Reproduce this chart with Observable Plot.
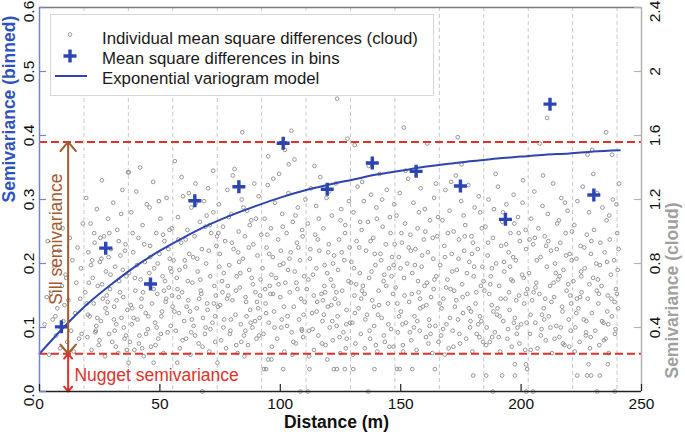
<!DOCTYPE html>
<html><head><meta charset="utf-8">
<script src="https://cdn.jsdelivr.net/npm/d3@7"></script>
<script src="https://cdn.jsdelivr.net/npm/@observablehq/plot@0.6"></script>
<style>
body{margin:0;background:#fff;}
#wrap{position:relative;width:685px;height:435px;font-family:"Liberation Sans",Arial,sans-serif;}
#wrap svg{display:block;}
</style></head><body><div id="wrap"></div>
<script>
// ---------- data ----------
const xTicks = [0, 50, 100, 150, 200, 250];
const xTickLabels = ["0", "50", "100", "150", "200", "250"];
const yTicks = [0, 0.1, 0.2, 0.3, 0.4, 0.5, 0.6];
const yTickLabels = ["0.0", "0.1", "0.2", "0.3", "0.4", "0.5", "0.6"];
const cloudTicks = [0.4, 0.8, 1.2, 1.6, 2, 2.4];
const cloudTickLabels = ["0.4", "0.8", "1.2", "1.6", "2", "2.4"];
const cloudPerBinned = 4; // right axis (cloud) = 4 x left axis (binned)

const binEdges = [18.45, 36.9, 55.35, 73.8, 92.25, 110.7, 129.15, 147.6, 166.05, 184.5, 202.95, 221.4, 239.85];
const binDist = [9.1, 27.5, 46.1, 64.5, 82.8, 101.2, 119.5, 138.2, 156.4, 174.8, 193.5, 212.0, 230.2];
const binMean = [0.101, 0.224, 0.168, 0.298, 0.320, 0.388, 0.316, 0.357, 0.344, 0.321, 0.269, 0.449, 0.307];

const modelDist = [0, 10, 20, 30, 40, 50, 60, 70, 80, 90, 100, 110, 120, 130, 140, 150, 160, 170, 180, 190, 200, 210, 220, 230, 241];
const modelGamma = [0.059, 0.100, 0.137, 0.168, 0.196, 0.220, 0.241, 0.260, 0.276, 0.290, 0.303, 0.314, 0.323, 0.331, 0.339, 0.345, 0.351, 0.356, 0.360, 0.364, 0.367, 0.370, 0.372, 0.375, 0.377];

const sill = 0.39;
const nugget = 0.059;
const arrowDist = 11.9;

// cloud: distance, value (cloud units) pairs
const cloudBin01 = [2.1,.42, 3.4,.94, 4.0,.23, 4.8,.61, 5.5,.45, 6.2,.78, 6.9,.35, 7.4,.52, 8.1,.88, 8.6,.27, 9.3,.66, 9.9,.44, 10.4,.54, 10.8,.73, 11.5,.31, 12.0,.57, 12.6,.96, 13.1,.38, 13.7,.82, 14.2,.25, 14.8,.49, 15.3,.68, 15.8,.90, 16.4,.33, 16.9,.58, 17.5,.36, 18.0,1.05, 17.2,.77, 11.1,.71, 6.6,.47, 3.0,.59, 9.6,1.02];
const cloudBin02 = [19.0,.62, 19.4,1.21, 19.9,.34, 20.3,.87, 20.8,.47, 21.2,1.05, 21.6,.26, 22.1,.71, 22.5,.55, 22.9,.93, 23.4,.38, 23.8,1.14, 24.2,.66, 24.6,.29, 25.1,.81, 25.5,.44, 25.9,1.32, 26.3,.58, 26.8,.97, 27.2,.22, 27.6,.75, 28.0,.49, 28.5,1.08, 28.9,.36, 29.3,.64, 29.7,.89, 30.2,.31, 30.6,1.18, 31.0,.53, 31.4,.78, 31.9,.42, 32.3,1.01, 32.7,.24, 33.1,.69, 33.6,.85, 34.0,.46, 34.4,1.26, 34.8,.59, 35.3,.33, 35.7,.92, 36.1,.72, 36.5,.51, 36.8,1.37, 20.1,.48, 22.7,.99, 24.9,.32, 27.9,.60, 29.0,.99, 31.7,.28, 33.9,1.11, 35.0,.40, 21.9,.82, 26.0,.67, 30.9,.45, 34.6,.76, 23.1,.37, 28.3,.56, 32.9,.94, 25.7,.83, 36.3,.26];
const cloudBin03 = [37.2,.74, 37.6,.31, 38.1,1.12, 38.5,.52, 38.9,.87, 39.4,.26, 39.8,.63, 40.2,1.25, 40.7,.45, 41.1,.96, 41.5,.35, 42.0,.70, 42.4,.58, 42.8,1.04, 43.3,.22, 43.7,.81, 44.1,.49, 44.6,1.17, 45.0,.39, 45.4,.67, 45.9,.91, 46.3,.28, 46.7,.55, 47.2,1.31, 47.6,.77, 48.0,.43, 48.5,.99, 48.9,.61, 49.3,.33, 49.8,.86, 50.2,1.08, 50.6,.47, 51.1,.72, 51.5,.24, 51.9,.94, 52.4,.56, 52.8,1.21, 53.2,.37, 53.7,.65, 54.1,.83, 54.5,.41, 55.0,1.02, 55.3,.53, 38.3,.42, 40.5,.79, 43.0,.62, 45.7,1.15, 48.2,.29, 50.9,.50, 53.5,.89, 41.8,1.40, 52.1,.69, 44.3,.36, 49.6,1.19, 54.8,.75, 39.1,.46, 46.0,.84, 51.3,.98, 42.6,.27, 55.1,.60, 37.1,1.37];
const cloudBin04 = [55.7,.82, 56.2,1.44, 56.6,.38, 57.0,.71, 57.5,1.09, 57.9,.49, 58.3,.27, 58.8,.93, 59.2,.62, 59.6,1.22, 60.1,.44, 60.5,.78, 60.9,.33, 61.4,1.01, 61.8,.57, 62.2,.86, 62.7,.23, 63.1,1.15, 63.5,.68, 64.0,.41, 64.4,.97, 64.8,1.30, 65.3,.52, 65.7,.75, 66.1,.30, 66.6,1.06, 67.0,.63, 67.4,.89, 67.9,.46, 68.3,1.19, 68.7,.36, 69.2,.80, 69.6,.55, 70.0,1.27, 70.5,.25, 70.9,.72, 71.3,.99, 71.8,.43, 72.2,1.12, 72.1,1.38, 72.6,.66, 73.0,.31, 73.5,.91, 59.0,1.34, 63.8,.84, 66.3,.58, 68.9,1.03, 71.0,.39, 73.2,.60, 58.1,.76, 62.5,.50, 65.0,1.18, 67.7,.28, 70.3,.88, 57.3,.64, 60.7,.95, 64.6,.35, 69.4,1.10, 72.9,.47, 62.0,1.24, 61.1,.53];
const cloudBin05 = [74.1,.53, 74.5,1.17, 74.9,.86, 75.4,.32, 75.8,.69, 76.2,1.03, 76.7,.45, 77.1,.94, 77.5,.27, 78.0,1.26, 78.4,.60, 78.8,.79, 79.3,.38, 79.7,1.11, 80.1,.57, 80.6,.89, 81.0,1.39, 81.4,.48, 81.9,.72, 82.3,.24, 82.7,1.00, 83.2,.65, 83.6,.42, 84.0,1.20, 84.2,1.62, 84.5,.83, 84.9,.35, 85.3,.97, 85.8,.56, 86.2,1.13, 86.6,.29, 87.1,.76, 87.5,.51, 87.9,1.07, 88.4,.40, 88.8,.92, 89.2,1.30, 89.7,.62, 90.1,.33, 90.5,.85, 91.0,1.22, 91.4,.46, 91.8,.70, 92.1,.98, 75.0,.54, 77.9,.58, 80.3,1.35, 82.9,.81, 85.1,.22, 87.3,1.04, 89.5,.44, 91.6,.60, 76.5,.74, 79.0,.36, 81.6,.63, 84.7,1.15, 86.9,.90, 88.6,.67, 90.8,.52, 74.3,.99, 83.8,.31, 78.6,1.09, 86.0,.47];
const cloudBin06 = [92.6,.77, 93.0,.36, 93.5,1.08, 93.9,.55, 94.3,.90, 94.8,1.29, 95.0,1.47, 95.2,.43, 95.6,.66, 96.1,1.02, 96.5,.28, 96.9,.84, 97.4,.50, 97.8,1.18, 98.2,.71, 98.7,.33, 99.1,.95, 99.5,1.36, 100.0,.59, 100.4,.40, 100.8,1.11, 101.3,.80, 101.7,.25, 101.9,1.51, 102.1,.68, 102.6,.99, 103.0,.47, 103.5,1.42, 103.4,1.24, 103.9,.62, 104.3,.87, 104.6,1.63, 104.7,.37, 105.2,1.06, 105.6,.53, 105.9,1.45, 106.0,.75, 106.5,.30, 106.9,.93, 107.3,1.15, 107.8,.45, 108.2,.82, 108.6,.58, 109.1,1.01, 109.5,.34, 109.9,.72, 110.4,1.20, 95.9,.61, 100.2,.88, 102.8,.41, 105.0,.23, 107.1,.64, 109.3,.97, 94.1,.49, 97.1,1.33, 99.8,.79, 106.3,1.10, 108.9,.39, 110.1,.56, 96.3,.73, 101.0,1.03];
const cloudBin07 = [111.0,.64, 111.4,1.05, 111.9,.38, 112.3,.83, 112.7,1.27, 113.2,.49, 113.6,.73, 114.0,.26, 114.5,.98, 114.9,1.16, 115.3,.56, 115.8,.35, 116.2,.88, 116.6,1.34, 117.1,.61, 117.5,.44, 117.9,1.02, 118.4,.79, 118.8,.29, 119.2,1.21, 119.7,.53, 120.1,.92, 120.5,.40, 121.0,.70, 121.4,1.10, 121.8,.32, 122.3,.85, 122.7,.58, 123.1,1.30, 123.6,1.83, 123.8,.47, 124.0,.76, 124.4,.95, 124.9,.24, 125.3,1.14, 125.7,.63, 126.2,.37, 126.6,.82, 127.0,1.04, 127.5,.51, 127.9,1.58, 128.3,.69, 128.8,.90, 129.0,.43, 112.0,.22, 113.9,.60, 116.0,1.08, 118.1,.48, 120.3,1.25, 122.0,.66, 124.6,.34, 126.9,.99, 128.5,1.19, 115.0,.77, 117.3,.30, 119.9,.87, 121.2,.54, 125.0,1.07, 127.2,.27, 114.2,1.41, 118.6,.62, 123.4,.41];
const cloudBin08 = [129.5,.81, 129.9,.43, 130.4,1.12, 130.9,1.54, 130.8,.60, 131.2,.30, 131.7,.94, 132.1,1.28, 132.5,.52, 133.0,.74, 133.4,.36, 133.8,1.01, 134.3,.66, 134.7,1.19, 135.1,.27, 135.6,.88, 136.0,.48, 136.4,1.06, 136.9,.71, 137.3,.33, 137.7,1.23, 138.2,.57, 138.6,.96, 139.0,.41, 139.5,.79, 139.9,1.15, 140.3,.25, 140.8,.63, 141.2,1.36, 141.6,.86, 142.1,.46, 142.5,1.03, 142.9,.69, 143.4,.31, 143.8,.92, 144.2,1.26, 144.7,.55, 145.1,.77, 145.5,1.09, 146.0,.39, 146.4,.84, 146.8,.61, 147.3,1.17, 130.1,.23, 132.8,.90, 135.3,.45, 137.9,.75, 140.1,1.08, 143.0,.35, 145.8,.99, 147.0,.28, 134.0,1.31, 138.9,.53, 141.9,.82, 144.9,.42, 131.5,.67, 136.7,1.41, 139.7,.29, 146.2,.72, 133.6,.58, 142.3,1.20];
const cloudBin09 = [147.9,.65, 148.3,1.10, 148.8,.37, 149.2,.84, 149.6,1.24, 150.1,.50, 150.5,.93, 150.9,.29, 151.3,1.65, 151.4,.71, 151.8,1.05, 152.2,.43, 152.7,.80, 153.1,1.33, 153.5,.56, 154.0,.98, 154.4,.32, 154.8,.74, 155.3,1.18, 155.7,.47, 156.1,.89, 156.6,.26, 157.0,1.02, 157.4,.62, 157.9,.38, 158.3,1.27, 158.7,.78, 159.2,.53, 159.6,.95, 160.0,1.14, 160.5,.34, 160.9,.68, 161.0,1.55, 161.3,.87, 161.8,.45, 162.2,1.07, 162.6,.59, 163.1,.24, 163.5,.83, 163.9,1.21, 164.4,.41, 164.8,.72, 165.2,.97, 165.7,.31, 148.6,.55, 151.0,.25, 153.3,.90, 155.5,.40, 157.6,1.12, 159.9,.66, 162.4,.36, 164.6,1.30, 149.9,.77, 152.0,1.38, 154.6,.61, 156.9,.44, 158.9,.85, 161.5,.30, 163.7,.64, 165.5,1.09, 150.3,.99, 158.1,.52];
const cloudBin10 = [166.4,.79, 166.8,.35, 167.3,1.07, 167.7,.58, 168.1,.91, 168.6,1.26, 169.0,.42, 169.4,.70, 169.9,.27, 170.3,1.13, 170.7,.64, 171.2,.86, 171.6,.38, 172.0,1.00, 172.5,.53, 172.9,1.35, 173.3,.76, 173.7,1.59, 173.8,.45, 174.2,.95, 174.6,.30, 175.1,1.19, 175.5,.67, 175.9,.49, 176.4,.88, 176.8,1.04, 177.2,.33, 177.7,.61, 178.1,1.29, 178.5,.81, 179.0,.44, 179.4,.97, 179.8,.25, 180.3,.72, 180.7,1.15, 181.1,.55, 181.6,.36, 182.0,.89, 182.4,1.22, 182.9,.47, 183.3,.66, 183.7,1.02, 184.2,.31, 167.0,.52, 169.6,.99, 171.9,.28, 174.0,.83, 176.1,1.10, 178.8,.40, 181.4,.62, 183.9,.78, 168.3,.23, 170.9,1.31, 173.1,.57, 177.5,.74, 180.0,.93, 182.7,.34, 168.9,.65, 175.3,1.42, 179.2,.50, 183.0,1.12];
const cloudBin11 = [184.8,.63, 185.2,1.03, 185.7,.40, 186.1,.85, 186.5,1.20, 187.0,.31, 187.4,.72, 187.8,.54, 188.3,.96, 188.7,1.14, 189.1,.37, 189.6,.80, 190.0,.48, 190.4,1.28, 190.9,.66, 191.3,.25, 191.7,.91, 192.2,1.06, 192.6,.44, 193.0,.75, 193.5,.58, 193.9,1.17, 194.3,.33, 194.8,.87, 195.2,.51, 195.6,.99, 196.1,.28, 196.5,.69, 196.9,1.23, 197.4,.46, 197.8,.82, 198.2,.36, 198.7,1.09, 199.1,.60, 199.5,.94, 200.0,.42, 200.4,.73, 200.8,1.32, 201.3,.55, 201.7,.26, 202.1,.89, 202.6,.64, 185.5,.29, 187.9,.77, 190.2,.52, 192.5,1.12, 194.6,.39, 196.7,.84, 199.3,.30, 201.9,1.01, 186.8,.61, 189.4,1.36, 191.1,.47, 193.8,.92, 195.9,.70, 198.0,.57, 200.6,1.18, 188.0,.34, 197.2,1.05, 202.3,.43];
const cloudBin12 = [203.3,.74, 203.7,.36, 204.2,1.08, 204.6,.57, 205.0,.92, 205.5,1.25, 205.9,.43, 206.3,.68, 206.8,.27, 207.2,1.02, 207.7,1.55, 207.6,.61, 208.1,.84, 208.5,.39, 208.9,1.16, 209.4,.52, 209.8,.97, 210.2,.32, 210.7,.78, 210.8,1.71, 211.1,1.11, 211.5,.47, 212.0,.66, 212.4,.88, 212.8,.24, 213.3,1.30, 213.7,.59, 214.1,.80, 214.6,.41, 215.0,1.05, 215.4,.70, 215.9,.34, 216.3,.93, 216.7,1.21, 217.2,.50, 217.6,.76, 218.0,.29, 218.5,.99, 218.9,.63, 219.3,1.13, 219.8,.45, 220.2,.86, 220.6,.38, 221.1,1.00, 204.0,.26, 206.5,.82, 208.7,.48, 211.3,.94, 213.9,.33, 216.0,.72, 218.2,1.18, 220.8,.55, 205.2,.62, 209.1,1.35, 212.2,.40, 214.8,.89, 217.4,.30, 219.6,.67, 210.0,.58, 215.7,1.07, 203.5,.95, 220.0,.28];
const cloudBin13 = [221.7,.69, 222.1,1.04, 222.5,.40, 223.0,.83, 223.4,1.19, 223.8,.52, 224.3,.31, 224.7,.91, 225.1,.62, 225.6,1.28, 226.0,.45, 226.4,.77, 226.9,.35, 227.3,.98, 227.6,1.48, 227.7,.58, 228.2,1.12, 228.6,.27, 229.0,.86, 229.5,1.51, 229.4,.49, 229.9,.71, 230.3,1.01, 230.8,.38, 231.2,.80, 231.6,1.24, 232.1,.55, 232.5,.29, 232.9,.93, 233.4,.66, 233.8,1.15, 234.2,.43, 234.7,.87, 235.1,.33, 235.3,1.62, 235.5,1.07, 236.0,.60, 236.4,.24, 236.8,.95, 237.3,.73, 237.8,1.48, 237.7,.47, 238.1,1.20, 238.6,.82, 239.0,.36, 239.4,.64, 239.9,.99, 240.3,.52, 240.7,1.30, 222.3,.25, 224.9,.75, 227.1,.44, 230.0,1.36, 232.3,.61, 234.4,.32, 236.6,1.10, 238.8,.56, 240.5,.89, 223.2,.58, 226.2,.90, 228.9,.34, 231.9,.70, 235.8,.50, 239.6,1.17];
const cloudMidA = [19.6,.55, 21.4,.79, 23.6,.41, 25.3,.96, 27.4,.52, 29.5,.73, 31.2,.38, 33.4,.62, 35.5,.88, 37.9,.54, 39.6,.71, 41.3,.30, 43.5,.92, 45.2,.47, 47.4,.64, 49.1,.80, 50.4,.36, 52.6,.58, 54.3,.77, 56.0,.50, 57.7,.95, 59.4,.32, 61.6,.69, 63.3,.45, 65.5,.83, 67.2,.61, 69.0,.40, 70.7,1.04, 72.4,.55, 74.7,.78, 76.4,.40, 78.2,.66, 79.9,.93, 81.7,.29, 83.4,.74, 85.6,.59, 87.7,.43, 89.9,1.08, 91.2,.35, 93.7,.64, 95.4,.86, 97.6,.40, 99.3,.67, 101.5,.53, 103.2,.76, 105.4,.31, 107.5,.90, 109.7,.48, 111.7,.70, 113.4,.39, 115.6,.95, 117.7,.57, 119.5,.74, 121.6,.44, 123.3,.62, 125.5,.87, 127.6,.33, 129.3,.68, 131.0,.49, 133.2,1.06, 135.0,.61, 137.1,.38, 139.2,.86, 141.0,.54, 143.2,.73, 145.3,.28, 147.5,.92, 149.3,.47, 151.6,.60, 153.8,.37, 155.9,.79, 158.0,.58, 160.2,1.00, 162.0,.41, 164.0,.70, 166.2,.55, 168.4,.84, 170.5,.46, 172.2,.63, 174.4,.36, 176.6,.97, 178.3,.52, 180.5,.78, 182.2,.42, 184.4,.69, 186.3,.93, 188.5,.50, 190.7,.34, 192.9,.81, 195.0,.62, 197.0,.43, 199.0,.99, 201.1,.71, 203.9,.48, 206.0,.65, 208.2,.35, 210.4,.91, 212.6,.56, 214.4,.74, 216.5,.40, 218.7,.85, 220.4,.60, 222.9,.49, 225.0,.72, 227.0,.37, 229.2,.94, 231.4,.63, 233.6,.44, 235.7,.81, 237.5,.58, 239.2,.39, 240.1,.76];
const cloudMidB = [20.5,.68, 24.0,.46, 28.7,.84, 32.0,.57, 35.9,.35, 38.7,.99, 42.2,.53, 45.6,.74, 48.7,.40, 51.7,.63, 54.0,1.01, 57.8,.59, 60.3,.82, 63.0,.37, 66.8,.70, 69.8,.51, 73.7,.97, 76.0,.62, 79.5,.45, 82.5,.87, 85.5,.38, 88.1,.71, 90.3,.56, 94.6,.98, 97.0,.61, 100.6,.45, 103.8,.83, 106.7,.68, 109.0,.38, 112.5,.89, 115.1,.50, 118.3,.66, 121.9,.80, 124.2,.55, 127.4,.42, 130.6,.77, 133.9,.63, 137.5,.94, 140.6,.48, 144.0,.66, 147.1,.79, 150.7,.42, 154.2,.88, 157.2,.69, 160.7,.54, 163.3,.96, 167.6,.39, 171.4,.75, 175.7,.59, 179.6,.86, 183.5,.44, 187.2,.67, 191.5,.58, 195.4,.78, 198.5,.40, 202.0,.61, 205.7,.96, 209.6,.45, 213.5,.68, 217.0,.53, 221.0,.82, 224.5,.59, 228.4,.67, 232.7,.79, 236.2,.42, 239.8,.61];
const cloudLow = [67.6,0, 108.4,0, 111.4,0, 136.5,0, 188.2,0, 202.2,0, 205.0,0, 231.6,0, 238.9,0, 180.1,.10, 185.5,.10, 192.1,.10, 197.4,.10, 223.3,.10, 227.4,.10, 229.1,.10, 232.7,.10, 93.2,.14, 94.1,.14, 101.2,.14, 112.1,.14, 122.2,.14, 123.5,.14, 126.8,.14, 130.3,.14, 139.1,.14, 148.5,.14, 149.6,.14, 154.8,.14, 164.2,.14, 202.5,.14, 37.0,.18, 47.4,.18, 57.2,.18, 73.9,.18, 95.0,.20, 96.3,.20, 119.5,.20, 197.4,.17, 202.0,.17, 228.0,.17, 236.0,.17];

const legendLabels = ["Individual mean square differences (cloud)", "Mean square differences in bins", "Exponential variogram model"];
const xTitle = "Distance (m)";
const yTitle = "Semivariance (binned)";
const y2Title = "Semivariance (cloud)";
const sillLabel = "Sill semivariance";
const nuggetLabel = "Nugget semivariance";

// ---------- build ----------
const FONT = '"Liberation Sans", Arial, sans-serif';
const BLUE = "#2c45b3", TITLEBLUE = "#2d52c0", AXISBLUE = "#7285d2";
const RED = "#e0312b", BROWN = "#a5582c", GRAY = "#969696", RGRAY = "#b2b2b2";

const cloud = [];
for (const arr of [cloudBin01, cloudBin02, cloudBin03, cloudBin04, cloudBin05, cloudBin06, cloudBin07, cloudBin08, cloudBin09, cloudBin10, cloudBin11, cloudBin12, cloudBin13, cloudMidA, cloudMidB, cloudLow]) {
  for (let i = 0; i + 1 < arr.length; i += 2) cloud.push({d: arr[i], v: arr[i + 1]});
}
const bins = binDist.map((d, i) => ({d, g: binMean[i]}));
const model = modelDist.map((d, i) => ({d, g: modelGamma[i]}));
const sillMid = (sill + nugget) / 2;
const sillArrows = [{y1: sillMid, y2: sill}, {y1: sillMid, y2: nugget}];
const nuggetArrows = [{y1: nugget / 2, y2: nugget}, {y1: nugget / 2, y2: 0}];

const plusSymbol = {draw(ctx, size) { const h = Math.sqrt(size / Math.PI); ctx.moveTo(-h, 0); ctx.lineTo(h, 0); ctx.moveTo(0, -h); ctx.lineTo(0, h); }};

const yEnds = [yTicks[0], yTicks[yTicks.length - 1]];
const yInner = yTicks.slice(1, -1);
const cloudTop = cloudTicks[cloudTicks.length - 1];
const cloudInner = cloudTicks.slice(0, -1);
const yLab = d => yTickLabels[yTicks.indexOf(d)];
const cLab = d => cloudTickLabels[cloudTicks.indexOf(d)];

const chart = Plot.plot({
  width: 685, height: 435,
  marginLeft: 39, marginRight: 44, marginTop: 7, marginBottom: 44,
  x: {domain: [0, 250], axis: null},
  y: {domain: [0, 0.6], axis: null},
  style: {fontFamily: FONT, background: "white", overflow: "visible"},
  marks: [
    Plot.ruleX(binEdges, {stroke: "#c8c8c8", strokeWidth: 1, strokeDasharray: "4,3"}),
    Plot.dot(cloud, {x: "d", y: d => d.v / cloudPerBinned, r: 1.85, stroke: GRAY, strokeWidth: 1, fill: "none"}),
    Plot.ruleY([sill, nugget], {stroke: RED, strokeWidth: 2, strokeDasharray: "8,4"}),
    Plot.line(model, {x: "d", y: "g", stroke: BLUE, strokeWidth: 2, curve: "monotone-x"}),
    Plot.dot(bins, {x: "d", y: "g", symbol: plusSymbol, r: 6.5, stroke: BLUE, strokeWidth: 3.4, fill: "none"}),
    // sill / nugget arrows
    Plot.arrow(sillArrows, {x1: () => arrowDist, x2: () => arrowDist, y1: "y1", y2: "y2", stroke: BROWN, strokeWidth: 2, headLength: 9, headAngle: 80}),
    Plot.arrow(nuggetArrows, {x1: () => arrowDist, x2: () => arrowDist, y1: "y1", y2: "y2", stroke: RED, strokeWidth: 2, headLength: 9, headAngle: 80}),
    Plot.text([sillLabel], {x: () => 7.0, y: () => 0.238, text: d => d, rotate: -90, fill: BROWN, fontSize: 17.5, textAnchor: "middle", lineAnchor: "middle"}),
    Plot.text([nuggetLabel], {x: () => 14.5, y: () => 0.0245, text: d => d, fill: RED, fontSize: 17.5, textAnchor: "start", lineAnchor: "middle"}),
    // frame / axes lines
    Plot.ruleY([0.6], {stroke: "#7a7a7a", strokeWidth: 1.5}),
    Plot.ruleX([250], {stroke: RGRAY, strokeWidth: 1.5}),
    Plot.ruleX([0], {stroke: AXISBLUE, strokeWidth: 1.5}),
    Plot.ruleY([0], {stroke: "#222", strokeWidth: 1.5}),
    // inward ticks
    Plot.ruleY(yTicks, {stroke: AXISBLUE, strokeWidth: 1.2, insetRight: 595}),
    Plot.ruleY(cloudTicks.map(v => v / cloudPerBinned), {stroke: RGRAY, strokeWidth: 1.2, insetLeft: 595}),
    Plot.ruleX(xTicks, {stroke: "#222", strokeWidth: 1.2, insetTop: 377}),
    // tick labels
    Plot.text(yInner, {y: d => d, text: yLab, frameAnchor: "left", dx: -10, rotate: -90, fontSize: 15.5, fill: "#111", textAnchor: "middle", lineAnchor: "middle"}),
    Plot.text(yEnds, {y: d => d, text: yLab, frameAnchor: "left", dx: -10, dy: 4, rotate: -90, fontSize: 15.5, fill: "#111", textAnchor: "middle", lineAnchor: "middle"}),
    Plot.text(cloudInner, {y: d => d / cloudPerBinned, text: cLab, frameAnchor: "right", dx: 14, rotate: -90, fontSize: 15.5, fill: "#111", textAnchor: "middle", lineAnchor: "middle"}),
    Plot.text([cloudTop], {y: d => d / cloudPerBinned, text: cLab, frameAnchor: "right", dx: 14, dy: 4, rotate: -90, fontSize: 15.5, fill: "#111", textAnchor: "middle", lineAnchor: "middle"}),
    Plot.text(xTicks, {x: d => d, text: (d, i) => xTickLabels[i], frameAnchor: "bottom", dy: 13, fontSize: 15.5, fill: "#111", textAnchor: "middle", lineAnchor: "middle"}),
    // axis titles
    Plot.text([xTitle], {frameAnchor: "bottom", text: d => d, dy: 31, dx: -4, fontSize: 17.5, fontWeight: "bold", fill: "#111", lineAnchor: "middle"}),
    Plot.text([yTitle], {frameAnchor: "left", text: d => d, dx: -30, dy: 3, rotate: -90, fontSize: 17.5, fontWeight: "bold", fill: TITLEBLUE, lineAnchor: "middle"}),
    Plot.text([y2Title], {frameAnchor: "right", text: d => d, dx: 31, dy: 3, rotate: -90, fontSize: 17.5, fontWeight: "bold", fill: "#a0a0a0", lineAnchor: "middle"})
  ]
});

const wrap = document.getElementById("wrap");
wrap.appendChild(chart);

// legend (inside the plot, top-left)
const leg = d3.select(wrap).append("svg")
  .attr("width", 685).attr("height", 435)
  .style("position", "absolute").style("left", "0px").style("top", "0px")
  .style("pointer-events", "none");
leg.append("rect").attr("x", 50.5).attr("y", 14.5).attr("width", 383).attr("height", 81)
  .attr("fill", "#fff").attr("stroke", "#d6d6d6").attr("stroke-width", 1);
leg.append("circle").attr("cx", 70).attr("cy", 34.5).attr("r", 1.85)
  .attr("fill", "none").attr("stroke", GRAY).attr("stroke-width", 1);
leg.append("path").attr("d", "M63.5,56H76.5M70,49.5V62.5")
  .attr("stroke", BLUE).attr("stroke-width", 3.4).attr("fill", "none");
leg.append("line").attr("x1", 55).attr("x2", 87).attr("y1", 76).attr("y2", 76)
  .attr("stroke", BLUE).attr("stroke-width", 2);
const baselines = [44.3, 64.3, 84.3];
legendLabels.forEach((t, i) => {
  leg.append("text").attr("x", 102).attr("y", baselines[i])
    .attr("font-family", FONT).attr("font-size", 16.8).attr("fill", "#1a1a1a").text(t);
});
</script></body></html>
